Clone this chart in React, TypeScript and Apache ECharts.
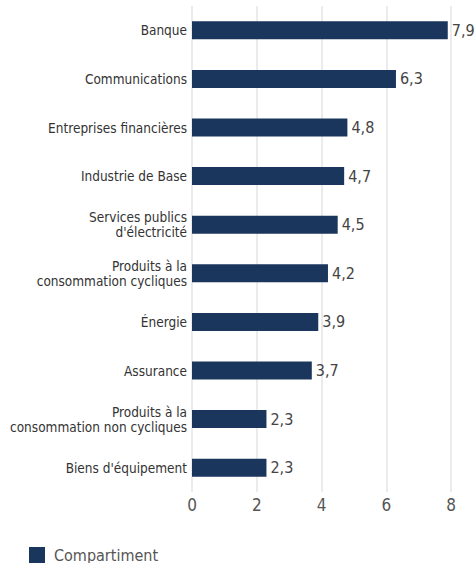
import React, { useEffect, useRef } from "react";
import * as echarts from "echarts";

const categories = [
  "Banque",
  "Communications",
  "Entreprises financières",
  "Industrie de Base",
  "Services publics\nd'électricité",
  "Produits à la\nconsommation cycliques",
  "Énergie",
  "Assurance",
  "Produits à la\nconsommation non cycliques",
  "Biens d'équipement",
];
const values = [7.9, 6.3, 4.8, 4.7, 4.5, 4.2, 3.9, 3.7, 2.3, 2.3];
const seriesName = "Compartiment";
const xTicks = [0, 2, 4, 6, 8];

const FONT = "'Liberation Sans Narrow', 'DejaVu Sans Condensed', 'Roboto', sans-serif";

export default function App() {
  const ref = useRef<HTMLDivElement>(null);
  useEffect(() => {
    if (!ref.current) return;
    const chart = echarts.init(ref.current, undefined, { renderer: "svg" });
    chart.setOption({
      animation: false,
      textStyle: { fontFamily: FONT },
      grid: {
        left: 192,
        right: 25,
        top: 6,
        bottom: 71,
        containLabel: false,
        outerBoundsMode: "none",
      },
      legend: {
        data: [seriesName],
        left: 24,
        top: 542,
        itemWidth: 16,
        itemHeight: 16,
        icon: "rect",
        itemGap: 8,
        textStyle: {
          fontFamily: FONT,
          fontSize: 16,
          color: "#555",
          padding: [6, 0, 0, 4],
        },
      },
      xAxis: {
        type: "value",
        min: xTicks[0],
        max: xTicks[xTicks.length - 1],
        interval: 2,
        axisLine: { show: false },
        axisTick: { show: false },
        axisLabel: { fontFamily: FONT, fontSize: 17, color: "#555", margin: 4 },
        splitLine: { lineStyle: { color: "#ebebeb", width: 2 } },
      },
      yAxis: {
        type: "category",
        data: categories,
        inverse: true,
        axisLine: { show: false },
        axisTick: { show: false },
        axisLabel: {
          fontFamily: FONT,
          fontSize: 13.5,
          color: "#333",
          margin: 5,
          lineHeight: 15,
          align: "right",
        },
      },
      series: [
        {
          name: seriesName,
          type: "bar",
          data: values,
          barWidth: 18,
          itemStyle: { color: "#1b365d" },
          label: {
            show: true,
            position: "right",
            distance: 4,
            fontFamily: FONT,
            fontSize: 16,
            color: "#444",
            formatter: (p: any) => String(p.value).replace(".", ","),
          },
        },
      ],
    });
    return () => chart.dispose();
  }, []);
  return (
    <div
      ref={ref}
      style={{ position: "absolute", left: 0, top: 0, width: 476, height: 563 }}
    />
  );
}
